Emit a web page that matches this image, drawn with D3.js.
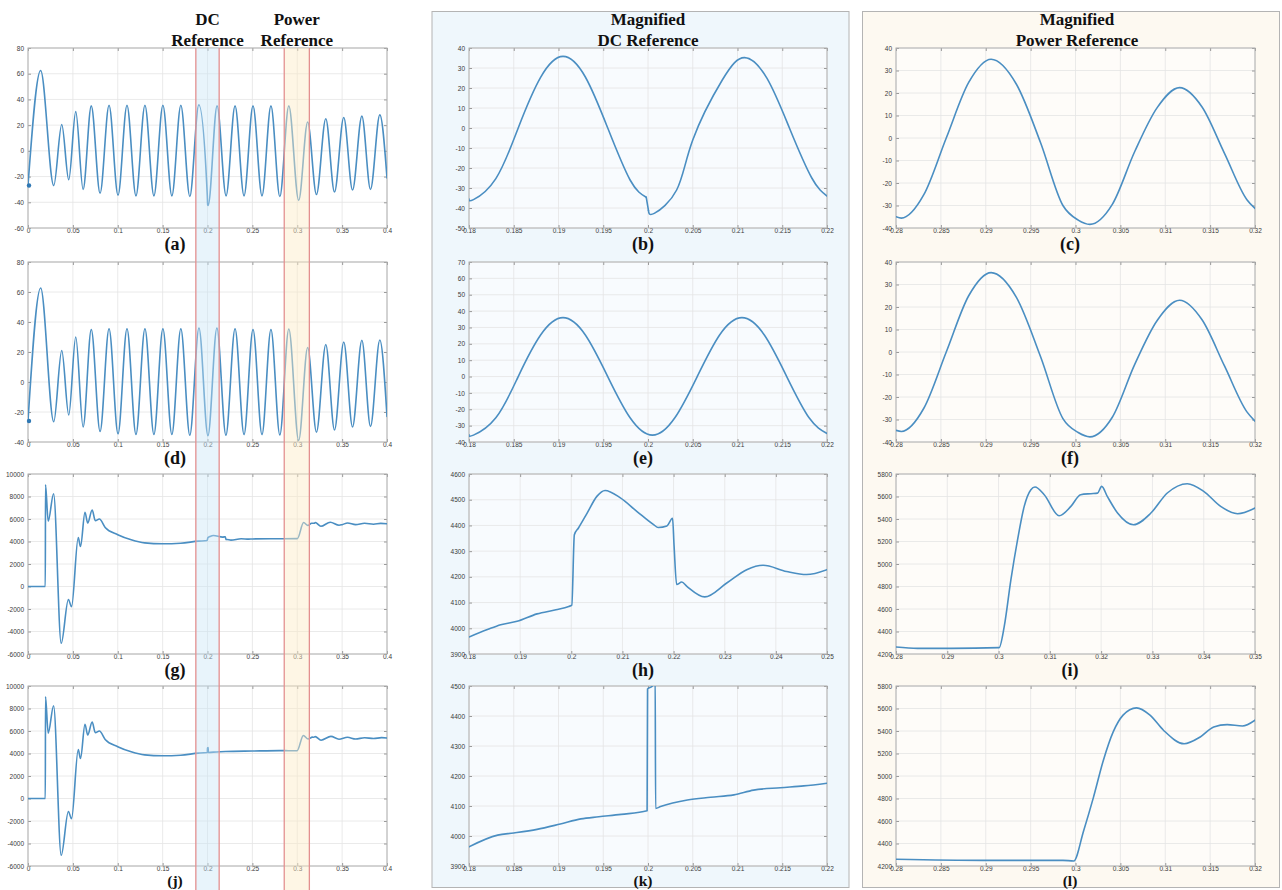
<!DOCTYPE html>
<html>
<head>
<meta charset="utf-8">
<script src="https://cdn.jsdelivr.net/npm/d3@7"></script>
<style>
  body { margin: 0; background: #fff; }
  svg { display: block; }
</style>
</head>
<body>
<svg id="fig" width="1282" height="890"></svg>
<script>
// ---- data ----
// (a) / (d): full run, peaks and troughs of the waveform
const waveA = [
  [0, -27], [0.0141, 62.5], [0.0287, -27], [0.0376, 20.5], [0.0454, -22.5], [0.0532, 30.5], [0.0614, -30],
  [0.0705, 35], [0.0803, -33], [0.0903, 35.5], [0.1003, -34.5], [0.1103, 35.5], [0.1203, -35], [0.1303, 35.5],
  [0.1403, -35], [0.1503, 35.5], [0.1603, -35], [0.1703, 35.5], [0.1803, -35.5], [0.1903, 35.8], [0.1998, -35],
  [0.2002, -42], [0.2007, -42.5], [0.2107, 35], [0.2207, -35], [0.2307, 35], [0.2407, -35], [0.2507, 35],
  [0.2607, -35], [0.2707, 35], [0.2806, -35.5], [0.2906, 35], [0.3016, -38.5], [0.3116, 22.4], [0.3214, -34],
  [0.3318, 25], [0.3415, -32], [0.3518, 26], [0.3616, -30.5], [0.372, 27], [0.3816, -30], [0.392, 28], [0.4, -21]
];
const waveD = [
  [0, -26], [0.0141, 62.7], [0.0287, -26.5], [0.0376, 21], [0.0454, -22], [0.0532, 30], [0.0614, -30],
  [0.0705, 35], [0.0803, -33], [0.0903, 35.5], [0.1003, -34.5], [0.1103, 35.5], [0.1203, -35], [0.1303, 35.5],
  [0.1403, -35], [0.1503, 35.5], [0.1603, -35], [0.1703, 35.5], [0.1803, -35.5], [0.1905, 36], [0.2005, -35.8],
  [0.2105, 36], [0.2205, -35.5], [0.2307, 35.5], [0.2407, -35], [0.2507, 35], [0.2607, -35], [0.2707, 35],
  [0.2806, -35.3], [0.2906, 35.3], [0.3016, -39], [0.3116, 23], [0.3214, -33.5], [0.3318, 25], [0.3415, -32],
  [0.3518, 26.7], [0.3616, -30], [0.372, 27.8], [0.3816, -29.6], [0.392, 28], [0.4, -23]
];
// (b) magnified DC step: before and after the step at t = 0.2
const waveBPre = [
  [0.18, -35.5], [0.1805, -35.8], [0.183, -25.3], [0.1855, 0], [0.188, 25.3], [0.1905, 35.8], [0.193, 25.5],
  [0.1955, 0], [0.198, -26], [0.1998, -34.6]
];
const waveBPost = [
  [0.20005, -41.2], [0.2007, -42.7], [0.2032, -31], [0.205, -6], [0.2083, 24], [0.2108, 35.2], [0.2133, 24.8],
  [0.2158, 0], [0.2183, -25], [0.22, -34]
];
// (e)
const waveE = [
  [0.18, -35.6], [0.1805, -35.8], [0.183, -25.2], [0.1855, 0], [0.188, 25.4], [0.1905, 36], [0.193, 25.4],
  [0.1955, 0], [0.198, -25.2], [0.2005, -35.8], [0.203, -25.2], [0.2055, 0], [0.208, 25.4], [0.2105, 36],
  [0.213, 25.4], [0.2155, 0], [0.218, -25.2], [0.22, -34.8]
];
// (c) magnified power step
const waveC = [
  [0.28, -35], [0.2806, -35.6], [0.2831, -25.2], [0.2856, 0], [0.2881, 24.7], [0.2906, 35], [0.2934, 24],
  [0.2961, -2], [0.2986, -30], [0.3003, -36.5], [0.3016, -38.4], [0.3041, -29.5], [0.3066, -6], [0.3091, 13.5],
  [0.3116, 22.4], [0.3141, 13.8], [0.3166, -6.8], [0.3191, -27.4], [0.32, -31.3]
];
// (f)
const waveF = [
  [0.28, -34.8], [0.2806, -35.3], [0.2831, -25], [0.2856, 0], [0.2881, 25], [0.2906, 35.3], [0.2934, 24.4],
  [0.2961, -2], [0.2986, -29.6], [0.3003, -35.8], [0.3016, -37.7], [0.3041, -29], [0.3066, -5.5], [0.3091, 14],
  [0.3116, 23], [0.3141, 14.3], [0.3166, -6.2], [0.3191, -26.6], [0.32, -30.7]
];
// (g) / (j): full run power, start-up transient is common
const powerStart = [
  [0, 0], [0.0193, 0], [0.0195, 9050], [0.0225, 5800], [0.0285, 8250], [0.037, -5050], [0.045, -1150],
  [0.0485, -1800], [0.056, 4350], [0.0585, 3550], [0.0635, 6600], [0.0665, 5650], [0.0715, 6800], [0.075, 5850],
  [0.0795, 6000], [0.086, 5250], [0.1, 4600], [0.115, 4150], [0.13, 3880], [0.15, 3800], [0.17, 3850],
  [0.19, 4030], [0.1995, 4084]
];
const powerGTail = [
  [0.2006, 4364], [0.2014, 4390], [0.2066, 4536], [0.217, 4392], [0.2198, 4428], [0.2206, 4170], [0.2216, 4180],
  [0.2261, 4122], [0.2375, 4245], [0.246, 4209], [0.25, 4228], [0.27, 4250], [0.2842, 4250], [0.3001, 4257],
  [0.3071, 5684], [0.3118, 5429], [0.316, 5616], [0.3193, 5630], [0.3201, 5690], [0.3263, 5349], [0.3368, 5714],
  [0.3466, 5447], [0.35, 5497], [0.356, 5650], [0.365, 5500], [0.375, 5620], [0.385, 5540], [0.393, 5610], [0.4, 5580]
];
const powerJTail = [
  [0.1999, 4085], [0.19995, 4500], [0.2008, 4520], [0.20085, 4092], [0.21, 4140], [0.22, 4176], [0.25, 4220],
  [0.28, 4255], [0.2998, 4245], [0.3068, 5606], [0.3121, 5287], [0.3169, 5457], [0.3186, 5445], [0.32, 5496],
  [0.3265, 5180], [0.3375, 5520], [0.3465, 5270], [0.356, 5440], [0.365, 5290], [0.375, 5400], [0.385, 5330],
  [0.394, 5410], [0.4, 5380]
];
const powerG = powerStart.concat(powerGTail);
const powerJ = powerStart.concat(powerJTail);
// (h)
const powerH = [
  [0.18, 3966], [0.1836, 3995], [0.1862, 4014], [0.1894, 4027], [0.1933, 4056], [0.197, 4072], [0.1995, 4085],
  [0.2001, 4090], [0.2006, 4364], [0.2014, 4390], [0.2031, 4448], [0.205, 4513], [0.2066, 4536], [0.2096, 4507],
  [0.2128, 4455], [0.2161, 4403], [0.217, 4392], [0.2187, 4398], [0.2198, 4428], [0.2201, 4320], [0.2206, 4170],
  [0.2216, 4180], [0.2226, 4163], [0.2261, 4122], [0.2304, 4176], [0.2343, 4228], [0.2375, 4245], [0.2421, 4221],
  [0.246, 4209], [0.25, 4228]
];
// (k)
const powerK = [
  [0.18, 3964], [0.1832, 4003], [0.185, 4010], [0.1876, 4022], [0.1902, 4040], [0.1925, 4057], [0.1945, 4064],
  [0.197, 4072], [0.1999, 4084], [0.19995, 4490], [0.2005, 4500], [0.2008, 4540], [0.20085, 4092], [0.2014, 4098],
  [0.2044, 4120], [0.207, 4129], [0.2096, 4137], [0.2118, 4153], [0.2148, 4161], [0.2174, 4167], [0.22, 4176]
];
// (i)
const powerI = [
  [0.28, 4262], [0.2842, 4250], [0.2907, 4250], [0.3001, 4257], [0.3011, 4443], [0.3024, 4859], [0.3037, 5215],
  [0.305, 5512], [0.3063, 5660], [0.3071, 5684], [0.3089, 5616], [0.3118, 5429], [0.3141, 5512], [0.316, 5616],
  [0.318, 5625], [0.3193, 5630], [0.3201, 5690], [0.3212, 5601], [0.3232, 5453], [0.3263, 5349], [0.3297, 5453],
  [0.3329, 5631], [0.3368, 5714], [0.34, 5646], [0.3433, 5512], [0.3466, 5447], [0.35, 5497]
];
// (l)
const powerL = [
  [0.28, 4260], [0.2897, 4250], [0.2986, 4250], [0.2998, 4245], [0.3009, 4512], [0.302, 4810], [0.3031, 5138],
  [0.3042, 5392], [0.3053, 5541], [0.3068, 5606], [0.3083, 5541], [0.3098, 5407], [0.3121, 5287], [0.3139, 5347],
  [0.3154, 5436], [0.3169, 5457], [0.3186, 5445], [0.32, 5496]
];

// tick values
const xTicksFull = [0, 0.05, 0.1, 0.15, 0.2, 0.25, 0.3, 0.35, 0.4];
const xTicksDC = [0.18, 0.185, 0.19, 0.195, 0.2, 0.205, 0.21, 0.215, 0.22];
const xTicksDCWide = [0.18, 0.19, 0.2, 0.21, 0.22, 0.23, 0.24, 0.25];
const xTicksPow = [0.28, 0.285, 0.29, 0.295, 0.3, 0.305, 0.31, 0.315, 0.32];
const xTicksPowWide = [0.28, 0.29, 0.3, 0.31, 0.32, 0.33, 0.34, 0.35];
const yTicksA = [-60, -40, -20, 0, 20, 40, 60, 80];
const yTicksD = [-40, -20, 0, 20, 40, 60, 80];
const yTicksP = [-6000, -4000, -2000, 0, 2000, 4000, 6000, 8000, 10000];
const yTicksB = [-50, -40, -30, -20, -10, 0, 10, 20, 30, 40];
const yTicksE = [-40, -30, -20, -10, 0, 10, 20, 30, 40, 50, 60, 70];
const yTicksC = [-40, -30, -20, -10, 0, 10, 20, 30, 40];
const yTicksH = [3900, 4000, 4100, 4200, 4300, 4400, 4500, 4600];
const yTicksK = [3900, 4000, 4100, 4200, 4300, 4400, 4500];
const yTicksI = [4200, 4400, 4600, 4800, 5000, 5200, 5400, 5600, 5800];

// highlighted windows on the left column
const dcWindow = [0.187, 0.213];
const powWindow = [0.2855, 0.3135];

// ---- layout ----
const colX = [[28, 387], [469, 827], [896, 1255]];
const rowY = [[48, 228], [262, 442], [474, 654], [686, 866]];
const labelX = [175, 643, 1070];
const lineColor = "#4a8ec2";

// each plot: list of segments, each drawn with its own curve
const mono = d3.curveMonotoneX, smooth = d3.curveNatural, straight = d3.curveLinear;
const plots = [
  { id: "a", col: 0, row: 0, segs: [[waveA, mono]], x: [0, 0.4], xt: xTicksFull, y: [-60, 80], yt: yTicksA, dot: true },
  { id: "d", col: 0, row: 1, segs: [[waveD, mono]], x: [0, 0.4], xt: xTicksFull, y: [-40, 80], yt: yTicksD, dot: true },
  { id: "g", col: 0, row: 2, segs: [[powerG, mono]], x: [0, 0.4], xt: xTicksFull, y: [-6000, 10000], yt: yTicksP },
  { id: "j", col: 0, row: 3, segs: [[powerJ, mono]], x: [0, 0.4], xt: xTicksFull, y: [-6000, 10000], yt: yTicksP },
  { id: "b", col: 1, row: 0,
    segs: [[waveBPre, smooth], [[waveBPre[waveBPre.length - 1], waveBPost[0]], straight], [waveBPost, smooth]],
    x: [0.18, 0.22], xt: xTicksDC, y: [-50, 40], yt: yTicksB },
  { id: "e", col: 1, row: 1, segs: [[waveE, smooth]], x: [0.18, 0.22], xt: xTicksDC, y: [-40, 70], yt: yTicksE },
  { id: "h", col: 1, row: 2, segs: [[powerH, mono]], x: [0.18, 0.25], xt: xTicksDCWide, y: [3900, 4600], yt: yTicksH },
  { id: "k", col: 1, row: 3, segs: [[powerK, mono]], x: [0.18, 0.22], xt: xTicksDC, y: [3900, 4500], yt: yTicksK },
  { id: "c", col: 2, row: 0, segs: [[waveC, mono]], x: [0.28, 0.32], xt: xTicksPow, y: [-40, 40], yt: yTicksC },
  { id: "f", col: 2, row: 1, segs: [[waveF, mono]], x: [0.28, 0.32], xt: xTicksPow, y: [-40, 40], yt: yTicksC },
  { id: "i", col: 2, row: 2, segs: [[powerI, mono]], x: [0.28, 0.35], xt: xTicksPowWide, y: [4200, 5800], yt: yTicksI },
  { id: "l", col: 2, row: 3, segs: [[powerL, mono]], x: [0.28, 0.32], xt: xTicksPow, y: [4200, 5800], yt: yTicksI }
];

const svg = d3.select("#fig");
svg.append("rect").attr("width", 1282).attr("height", 890).attr("fill", "#fff");

// shaded frames behind the magnified columns
svg.append("rect").attr("x", 432).attr("y", 11.5).attr("width", 417).attr("height", 876)
  .attr("fill", "#eff7fc").attr("stroke", "#b4b4b4");
svg.append("rect").attr("x", 862.5).attr("y", 11.5).attr("width", 417).attr("height", 876)
  .attr("fill", "#fdf9f1").attr("stroke", "#b4b4b4");

const defs = svg.append("defs");
const fmtX = d => String(+d.toFixed(4));

plots.forEach(p => {
  const [x0, x1] = colX[p.col];
  const [y0, y1] = rowY[p.row];
  const xs = d3.scaleLinear().domain(p.x).range([x0, x1]);
  const ys = d3.scaleLinear().domain(p.y).range([y1, y0]);
  const g = svg.append("g").attr("class", "plot-" + p.id);

  g.append("rect").attr("x", x0).attr("y", y0).attr("width", x1 - x0).attr("height", y1 - y0)
    .attr("fill", p.col === 0 ? "#fff" : "rgba(255,255,255,0.55)");

  // grid
  g.selectAll(".gx").data(p.xt).enter().append("line")
    .attr("x1", d => xs(d)).attr("x2", d => xs(d)).attr("y1", y0).attr("y2", y1)
    .attr("stroke", "#e4e4e4").attr("stroke-width", 0.8);
  g.selectAll(".gy").data(p.yt).enter().append("line")
    .attr("y1", d => ys(d)).attr("y2", d => ys(d)).attr("x1", x0).attr("x2", x1)
    .attr("stroke", "#e4e4e4").attr("stroke-width", 0.8);

  // inward ticks, MATLAB style
  const xAx = d3.axisBottom(xs).tickValues(p.xt).tickSize(-3).tickPadding(2).tickFormat(fmtX);
  const yAx = d3.axisLeft(ys).tickValues(p.yt).tickSize(-3).tickPadding(4).tickFormat(d => String(d));
  const ax = g.append("g").attr("transform", `translate(0,${y1})`).call(xAx);
  const ay = g.append("g").attr("transform", `translate(${x0},0)`).call(yAx);
  g.append("g").attr("transform", `translate(0,${y0})`)
    .call(d3.axisTop(xs).tickValues(p.xt).tickSize(-3).tickFormat(""));
  g.append("g").attr("transform", `translate(${x1},0)`)
    .call(d3.axisRight(ys).tickValues(p.yt).tickSize(-3).tickFormat(""));
  g.selectAll(".domain").remove();
  g.selectAll(".tick line").attr("stroke", "#9a9a9a");
  [ax, ay].forEach(a => a.selectAll("text")
    .attr("font-family", "Liberation Sans, Arial, sans-serif").attr("font-size", 6.5).attr("fill", "#3a3a3a"));
  ax.selectAll("text").attr("dy", "0.5em");

  g.append("rect").attr("x", x0).attr("y", y0).attr("width", x1 - x0).attr("height", y1 - y0)
    .attr("fill", "none").attr("stroke", "#b0b0b0").attr("stroke-width", 1);

  defs.append("clipPath").attr("id", "clip-" + p.id).append("rect")
    .attr("x", x0).attr("y", y0).attr("width", x1 - x0).attr("height", y1 - y0);

  const curveG = g.append("g").attr("clip-path", `url(#clip-${p.id})`);
  p.segs.forEach(([pts, curve]) => {
    const line = d3.line().x(d => xs(d[0])).y(d => ys(d[1])).curve(curve);
    curveG.append("path").datum(pts).attr("d", line)
      .attr("fill", "none").attr("stroke", lineColor).attr("stroke-width", 1.6)
      .attr("stroke-linejoin", "round").attr("stroke-linecap", "round");
  });

  if (p.dot) {
    const first = p.segs[0][0][0];
    g.append("circle").attr("cx", xs(first[0]) + 1).attr("cy", ys(first[1])).attr("r", 2.2)
      .attr("fill", "#2f78b4");
  }

  const last = p.row === 3;
  svg.append("text").attr("x", labelX[p.col]).attr("y", last ? 886.3 : y1 + 22)
    .attr("text-anchor", "middle").attr("font-family", "Liberation Serif, Times New Roman, serif")
    .attr("font-weight", "bold").attr("font-size", last ? 15.5 : 18).attr("fill", "#111")
    .text(`(${p.id})`);
});

// windows over the left column
const xsLeft = d3.scaleLinear().domain([0, 0.4]).range(colX[0]);
[[dcWindow, "rgba(200,228,246,0.42)"], [powWindow, "rgba(253,236,198,0.45)"]].forEach(([w, fill]) => {
  const xa = xsLeft(w[0]), xb = xsLeft(w[1]);
  svg.append("rect").attr("x", xa).attr("y", rowY[0][0]).attr("width", xb - xa).attr("height", 890 - rowY[0][0])
    .attr("fill", fill);
  [xa, xb].forEach(xv => svg.append("line").attr("x1", xv).attr("x2", xv)
    .attr("y1", rowY[0][0]).attr("y2", 890).attr("stroke", "#e39090").attr("stroke-width", 1.3));
});

// headers
const headers = [
  { x: xsLeft(d3.mean(dcWindow)), lines: ["DC", "Reference"] },
  { x: xsLeft(d3.mean(powWindow)), lines: ["Power", "Reference"] },
  { x: 648, lines: ["Magnified", "DC Reference"] },
  { x: 1077, lines: ["Magnified", "Power Reference"] }
];
headers.forEach(h => {
  h.lines.forEach((t, i) => {
    svg.append("text").attr("x", h.x).attr("y", 25 + i * 21)
      .attr("text-anchor", "middle").attr("font-family", "Liberation Serif, Times New Roman, serif")
      .attr("font-weight", "bold").attr("font-size", 17).attr("fill", "#111").text(t);
  });
});
</script>
</body>
</html>
